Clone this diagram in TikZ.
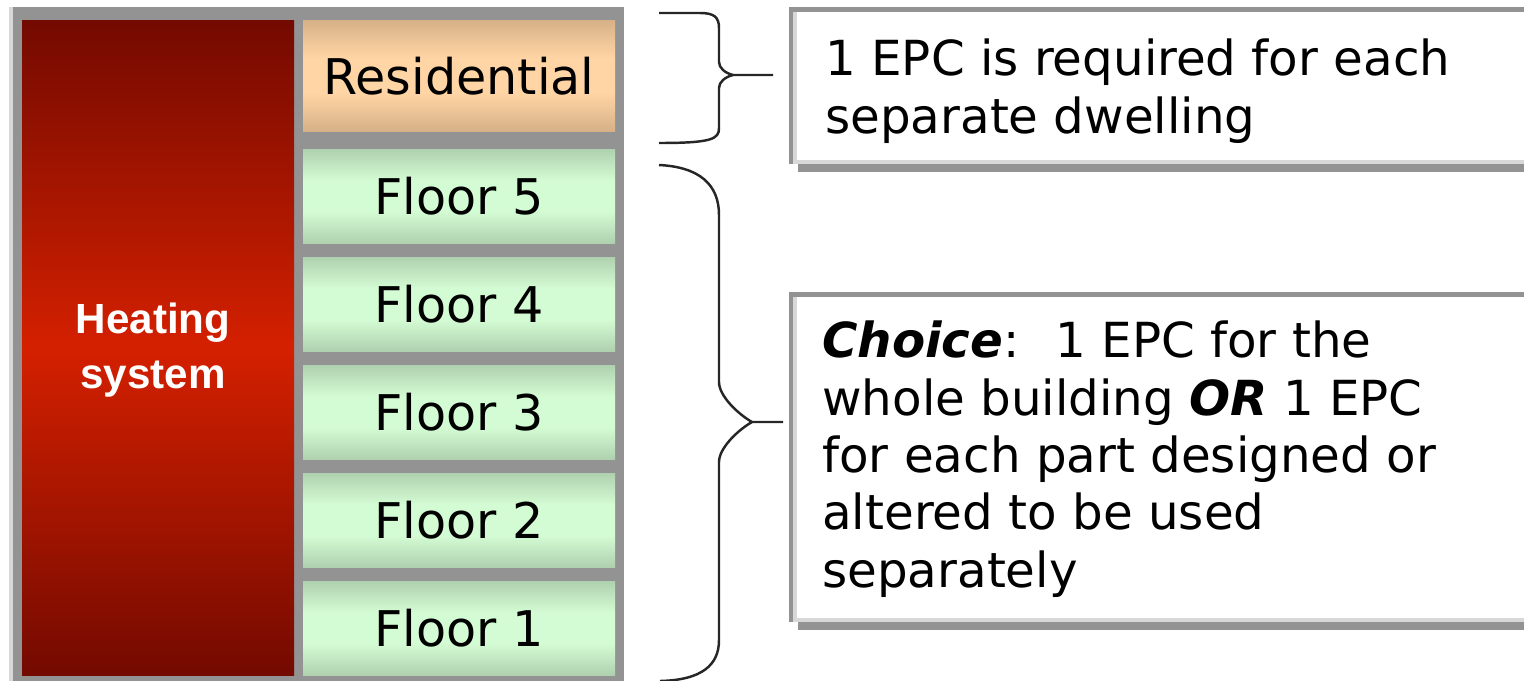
\documentclass[tikz,border=0pt]{standalone}
\usepackage{fontspec}
\setmainfont{DejaVu Sans}
\newfontfamily\heatfont{Liberation Sans}
\usepackage{tikz}

\definecolor{framegray}{HTML}{939393}
\definecolor{rimgray}{HTML}{D8D8D8}
\definecolor{heatdark}{HTML}{730A00}
\definecolor{heatred}{HTML}{D42000}
\definecolor{tandark}{HTML}{9A7A5C}
\definecolor{tanlight}{HTML}{FFD5A5}
\definecolor{floordark}{HTML}{7A9178}
\definecolor{floorlight}{HTML}{D4FCD4}

% banded fills for the storeys (dark rim, pale middle)
\pgfdeclareverticalshading{floorband}{100bp}{color(0bp)=(floordark); color(42bp)=(floorlight); color(58bp)=(floorlight); color(100bp)=(floordark)}
\pgfdeclareverticalshading{tanband}{100bp}{color(0bp)=(tandark); color(42bp)=(tanlight); color(58bp)=(tanlight); color(100bp)=(tandark)}

% note panel with inset rim and drop shadow: #1 = top, #2 = bottom
\newcommand\notepanel[2]{%
  \fill[framegray] (798,#1+6) rectangle (1540,#2+8);
  \fill[white] (789,#1) rectangle (1540,#2);
  \fill[rimgray] (793,#2-4) rectangle (1540,#2);
  \fill[rimgray] (793,#1) rectangle (797,#2);
  \fill[framegray] (789,#1) rectangle (793,#2);
  \fill[framegray] (789,#1) rectangle (1540,#1+5);
}

\begin{document}
\begin{tikzpicture}[x=0.02cm, y=-0.02cm,
    floortext/.style={font=\fontsize{28}{30}\selectfont, inner sep=0pt},
    heattext/.style={font=\heatfont\bfseries\fontsize{24}{31}\selectfont, text=white, align=center, inner sep=0pt},
    notetext/.style={font=\fontsize{27.5}{32.6}\selectfont, align=left, anchor=base west, inner sep=0pt},
    bracket/.style={line width=1.4pt, black!85}]

    \useasboundingbox (0,0) rectangle (1524,680);

    % building frame
    \fill[framegray] (9,7) rectangle (624,690);
    \fill[rimgray] (9,7) rectangle (13,690);

    % heating column
    \shade[top color=heatdark, bottom color=heatdark, middle color=heatred] (22,20) rectangle (294,675);
    \node[heattext] (heating) at (153,350) {Heating\\system};

    % residential part
    \shade[shading=tanband] (303,20) rectangle (615,131);
    \node[floortext] (residential) at (459,76) {Residential};

    % floors
    \shade[shading=floorband] (303,149) rectangle (615,243);
    \node[floortext] (floor5) at (459,196) {Floor 5};
    \shade[shading=floorband] (303,257) rectangle (615,351);
    \node[floortext] (floor4) at (459,304) {Floor 4};
    \shade[shading=floorband] (303,365) rectangle (615,459);
    \node[floortext] (floor3) at (459,412) {Floor 3};
    \shade[shading=floorband] (303,473) rectangle (615,567);
    \node[floortext] (floor2) at (459,520) {Floor 2};
    \shade[shading=floorband] (303,581) rectangle (615,675);
    \node[floortext] (floor1) at (459,628) {Floor 1};

    % brace round the residential part
    \draw[bracket] (659,13) -- (700,13) .. controls (714,13) and (719,17) .. (719,28) -- (719,62)
        .. controls (719,68) and (725,73) .. (733,75) -- (773,75);
    \draw[bracket] (733,75) .. controls (725,77) and (719,82) .. (719,88) -- (719,128)
        .. controls (719,139) and (712,143) .. (659,143);

    % brace round the floors
    \draw[bracket] (659,165) .. controls (700,167) and (719,185) .. (719,215) -- (719,382)
        .. controls (719,396) and (738,414) .. (752,422) -- (783,422);
    \draw[bracket] (752,422) .. controls (738,430) and (719,448) .. (719,462) -- (719,640)
        .. controls (719,665) and (702,680) .. (660,681);

    % notes (node sits on the baseline of its last line)
    \notepanel{7}{164}
    \node[notetext] (dwelling) at (825,133) {1 EPC is required for each\\separate dwelling};

    \notepanel{292}{622}
    \node[notetext] (choice) at (822,587) {\textbf{\textit{Choice}}:~ 1 EPC for the\\whole building \textbf{\textit{OR}} 1 EPC\\for each part designed or\\altered to be used\\separately};
\end{tikzpicture}
\end{document}
